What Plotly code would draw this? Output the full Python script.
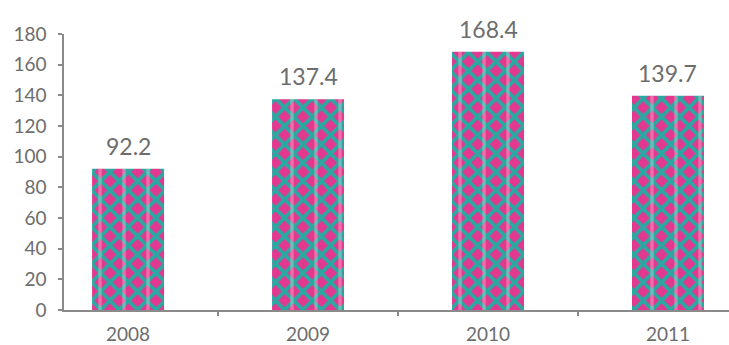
import plotly.graph_objects as go

# Annual values
years = ["2008", "2009", "2010", "2011"]
values = [92.2, 137.4, 168.4, 139.7]
value_labels = ["92.2", "137.4", "168.4", "139.7"]
y_ticks = [0, 20, 40, 60, 80, 100, 120, 140, 160, 180]

GREY = "#6d6d6d"
AXIS = "#8a8a8a"
FONT = "Lato, 'Open Sans', sans-serif"

fig = go.Figure()

# Patterned bars: magenta base with a teal lattice
fig.add_trace(go.Bar(
    x=years,
    y=values,
    width=0.4,
    marker=dict(
        color="#e2388f",
        line=dict(width=0),
        pattern=dict(shape="x", fgcolor="#2aa9a3", bgcolor="#e2388f",
                     size=13, solidity=0.5, fillmode="replace"),
    ),
    hoverinfo="x+y",
))

# Light vertical highlights over the lattice
fig.add_trace(go.Bar(
    x=years,
    y=values,
    width=0.4,
    marker=dict(
        color="rgba(0,0,0,0)",
        line=dict(width=0),
        pattern=dict(shape="|", fgcolor="rgba(255,240,230,0.6)",
                     bgcolor="rgba(0,0,0,0)", size=24, solidity=0.14),
    ),
    hoverinfo="skip",
))

# Value labels sitting above each bar (category index on the x axis)
for i, (v, lbl) in enumerate(zip(values, value_labels)):
    fig.add_annotation(
        x=i, y=v, xref="x", yref="y", text=lbl, showarrow=False,
        yanchor="bottom", yshift=7,
        font=dict(family=FONT, size=23, color=GREY),
    )

fig.update_layout(
    width=729,
    height=345,
    margin=dict(l=64, r=0, t=34, b=32),
    paper_bgcolor="white",
    plot_bgcolor="white",
    showlegend=False,
    barmode="overlay",
    font=dict(family=FONT, color=GREY),
    xaxis=dict(
        type="category",
        range=[-0.356, 3.339],
        showline=True,
        linecolor=AXIS,
        linewidth=1.5,
        ticks="outside",
        tickson="boundaries",
        ticklen=4,
        tickcolor=AXIS,
        tickwidth=1.5,
        ticklabelstandoff=6,
        tickfont=dict(family=FONT, size=19, color=GREY),
        showgrid=False,
        zeroline=False,
    ),
    yaxis=dict(
        range=[0, 180],
        tickvals=y_ticks,
        showline=True,
        linecolor=AXIS,
        linewidth=1.5,
        ticks="outside",
        ticklen=4,
        tickcolor=AXIS,
        tickwidth=1.5,
        ticklabelstandoff=8,
        tickfont=dict(family=FONT, size=19, color=GREY),
        showgrid=False,
        zeroline=False,
    ),
)

fig.write_html("out.html")
